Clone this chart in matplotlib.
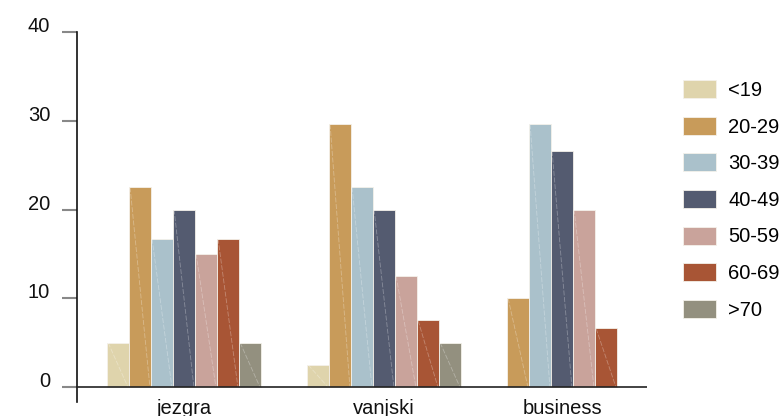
import numpy as np
import matplotlib
matplotlib.use('Agg')
from matplotlib import pyplot as plt
from matplotlib.transforms import ScaledTranslation

plt.rcParams['font.family'] = ['Liberation Sans', 'DejaVu Sans']

groups = ['jezgra', 'vanjski', 'business']
ages = ['<19', '20-29', '30-39', '40-49', '50-59', '60-69', '>70']
colors = ['#dfd4ac', '#c89b5a', '#aac1cb', '#545b70', '#c9a39b', '#a85535', '#93907f']

# values per age band, one list per group
jezgra = [5.0, 22.5, 16.7, 20.0, 15.0, 16.7, 5.0]
vanjski = [2.5, 29.6, 22.5, 20.0, 12.5, 7.5, 5.0]
business = [0.0, 10.0, 29.6, 26.6, 20.0, 6.6, 0.0]
values = [jezgra, vanjski, business]

fig = plt.figure(figsize=(7.82, 4.16), dpi=100)
W, H = 782, 416
ax = fig.add_axes([77 / W, (H - 402) / H, (647 - 77) / W, (402 - 32) / H])

bw = 0.11
centers = []
for gi, vals in enumerate(values):
    # only non-zero bars are drawn, packed from the group start
    k = 0
    for j, v in enumerate(vals):
        if v <= 0:
            continue
        x = gi + k * bw
        ax.bar(x, v, width=bw, align='edge', color=colors[j],
               edgecolor='#f4f1ea', linewidth=0.6, zorder=2)
        ax.plot([x + bw * 0.05, x + bw * 0.95], [v, 0], color='white',
                lw=0.6, alpha=0.3, ls=(0, (6, 2)), zorder=3)
        k += 1
    centers.append(gi + k * bw / 2)

ax.set_xlim(-0.15, 2.7)
ax.set_ylim(-1.69, 40)
ax.axhline(0, color='#222222', lw=1.2, zorder=4)

for s in ['top', 'right', 'bottom']:
    ax.spines[s].set_visible(False)
ax.spines['left'].set_linewidth(1.2)
ax.spines['left'].set_color('#111111')

fs = 14.5
ax.set_yticks([0, 10, 20, 30, 40])
ax.tick_params(axis='y', length=10.8, width=1.5, color='#888888', pad=8.5,
               labelsize=fs, labelcolor='#111111')
for lab in ax.get_yticklabels():
    lab.set_transform(lab.get_transform() + ScaledTranslation(0, 0.075, fig.dpi_scale_trans))

ax.set_xticks(centers)
ax.set_xticklabels(groups)
ax.tick_params(axis='x', length=0, pad=-2.5, labelsize=fs, labelcolor='#111111')

handles = [plt.Rectangle((0, 0), 1, 1, facecolor=c, edgecolor='#f4f1ea', lw=0.6) for c in colors]
fig.legend(handles, ages, loc='upper left', bbox_to_anchor=(683 / W, 1 - 80 / H),
           frameon=False, fontsize=fs, handlelength=1.64, handleheight=1.0,
           handletextpad=0.6, labelspacing=0.83, borderpad=0, borderaxespad=0)

plt.savefig('out.png', dpi=100)
